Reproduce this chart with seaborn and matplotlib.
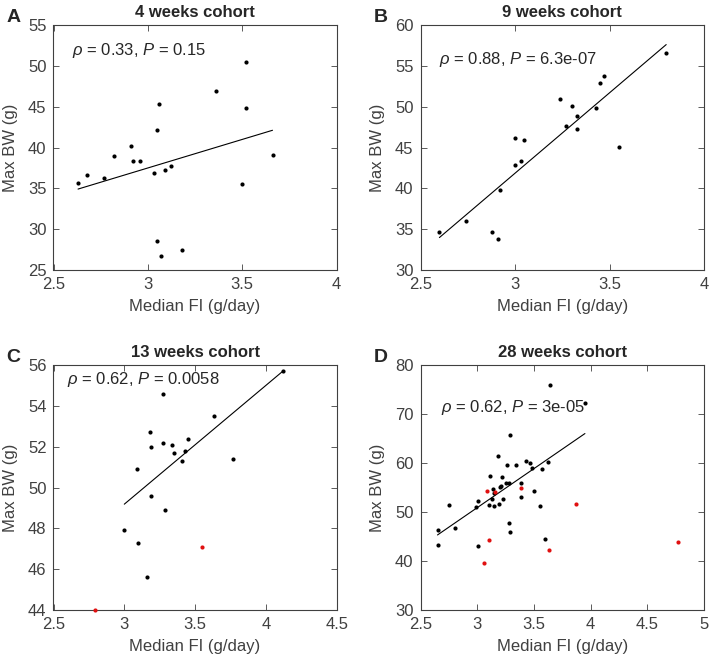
import numpy as np
import pandas as pd
import matplotlib
matplotlib.use("Agg")
import matplotlib.pyplot as plt
import seaborn as sns

# 4 weeks cohort
a_fi = [2.63, 2.68, 2.77, 2.82, 2.91, 2.92, 2.96, 3.03, 3.06, 3.05, 3.09, 3.12,
        3.05, 3.07, 3.18, 3.36, 3.52, 3.52, 3.50, 3.66]
a_bw = [35.6, 36.6, 36.3, 38.9, 40.2, 38.4, 38.4, 36.9, 45.3, 42.1, 37.2, 37.7,
        28.6, 26.7, 27.5, 46.9, 50.5, 44.8, 35.5, 39.1]

# 9 weeks cohort
b_fi = [2.60, 2.74, 2.88, 2.91, 2.92, 3.00, 3.00, 3.03, 3.05, 3.24, 3.27, 3.30,
        3.33, 3.33, 3.43, 3.45, 3.47, 3.55, 3.80]
b_bw = [34.6, 36.0, 34.7, 33.8, 39.8, 42.8, 46.2, 43.4, 45.9, 51.0, 47.6, 50.1,
        48.8, 47.3, 49.8, 52.9, 53.7, 45.1, 56.6]

# 13 weeks cohort
c_fi = [4.12, 3.27, 3.63, 3.18, 3.19, 3.27, 3.34, 3.35, 3.45, 3.43, 3.41, 3.77,
        3.09, 3.19, 3.29, 3.00, 3.10, 3.16]
c_bw = [55.7, 54.6, 53.5, 52.7, 52.0, 52.2, 52.1, 51.7, 52.4, 51.8, 51.3, 51.4,
        50.9, 49.6, 48.9, 47.9, 47.3, 45.6]
c_out_fi = [3.55, 2.79]
c_out_bw = [47.1, 44.0]

# 28 weeks cohort
d_fi = [3.64, 3.95, 3.29, 3.18, 3.26, 3.34, 3.43, 3.47, 3.62, 3.48, 3.57, 3.11,
        3.22, 3.20, 3.21, 3.25, 3.28, 3.39, 3.14, 3.15, 3.13, 3.23, 3.39, 3.50,
        3.01, 2.99, 3.10, 3.15, 3.19, 2.75, 3.55, 2.65, 2.80, 2.65, 3.01, 3.28,
        3.29, 3.60]
d_bw = [76.0, 72.2, 65.8, 61.4, 59.5, 59.5, 60.5, 59.9, 60.2, 58.9, 58.7, 57.3,
        57.1, 55.2, 55.4, 56.0, 56.0, 55.9, 54.6, 53.8, 52.7, 52.7, 53.1, 54.2,
        52.2, 51.0, 51.5, 51.2, 51.6, 51.4, 51.2, 46.3, 46.7, 43.2, 43.1, 47.8,
        45.9, 44.4]
d_out_fi = [3.09, 3.16, 3.39, 3.87, 3.10, 3.06, 3.63, 4.77]
d_out_bw = [54.2, 54.0, 54.8, 51.7, 44.2, 39.5, 42.2, 43.9]

titles = ["4 weeks cohort", "9 weeks cohort", "13 weeks cohort", "28 weeks cohort"]
letters = ["A", "B", "C", "D"]
stats = [r"$\rho$ = 0.33, $P$ = 0.15", r"$\rho$ = 0.88, $P$ = 6.3e-07",
         r"$\rho$ = 0.62, $P$ = 0.0058", r"$\rho$ = 0.62, $P$ = 3e-05"]

sns.set_style("ticks")
plt.rcParams["font.family"] = ["Liberation Sans", "DejaVu Sans"]
plt.rcParams["mathtext.fontset"] = "custom"
plt.rcParams["mathtext.rm"] = "Liberation Sans"
plt.rcParams["mathtext.it"] = "Liberation Sans:italic"

W, H = 709, 661
fig = plt.figure(figsize=(W / 100, H / 100), dpi=100)

# axes boxes in pixels: left, top, right, bottom
boxes = [(53.5, 25, 336.7, 270), (420.5, 25, 704, 270),
         (53.5, 365, 336.7, 610), (420.5, 365, 704, 610)]
xlims = [(2.5, 4), (2.5, 4), (2.5, 4.5), (2.5, 5)]
ylims = [(25, 55), (30, 60), (44, 56), (30, 80)]
ysteps = [5, 5, 2, 10]
text_pos = [(2.6, 51.9), (2.6, 55.8), (2.594, 55.3), (2.68, 71.4)]

panels = [(a_fi, a_bw, [], []), (b_fi, b_bw, [], []),
          (c_fi, c_bw, c_out_fi, c_out_bw), (d_fi, d_bw, d_out_fi, d_out_bw)]

gray = "#404040"
for i, (fi, bw, ofi, obw) in enumerate(panels):
    l, t, r, b = boxes[i]
    ax = fig.add_axes([l / W, 1 - b / H, (r - l) / W, (b - t) / H])
    df = pd.DataFrame({"fi": fi, "bw": bw})
    sns.regplot(data=df, x="fi", y="bw", scatter=False, ci=None, ax=ax,
                line_kws=dict(color="black", lw=0.8))
    sns.scatterplot(data=df, x="fi", y="bw", color="black", s=9, linewidth=0,
                    ax=ax, clip_on=False, zorder=3)
    if ofi:
        sns.scatterplot(x=ofi, y=obw, color="#e01010", s=9, linewidth=0,
                        ax=ax, clip_on=False, zorder=3)
    ax.set_xlim(*xlims[i])
    ax.set_ylim(*ylims[i])
    ax.set_xticks(np.arange(xlims[i][0], xlims[i][1] + 0.01, 0.5))
    ax.set_yticks(np.arange(ylims[i][0], ylims[i][1] + 0.01, ysteps[i]))
    ax.xaxis.set_major_formatter(matplotlib.ticker.FormatStrFormatter("%g"))
    ax.yaxis.set_major_formatter(matplotlib.ticker.FormatStrFormatter("%g"))
    ax.tick_params(direction="in", top=True, right=True, length=4, width=0.6,
                   labelsize=12, labelcolor=gray, color=gray, pad=5)
    for sp in ax.spines.values():
        sp.set_color(gray)
        sp.set_linewidth(0.8)
    ax.set_xlabel("Median FI (g/day)", fontsize=12, color=gray, labelpad=5)
    ax.set_ylabel("Max BW (g)", fontsize=12, color=gray, labelpad=7)
    ax.set_title(titles[i], fontsize=12, fontweight="bold", pad=6)
    ax.text(*text_pos[i], stats[i], fontsize=12, va="center", ha="left")
    fig.text((l - 47) / W, 1 - (t - 7) / H, letters[i], fontsize=14,
             fontweight="bold", ha="left", va="center")

fig.savefig("out.png", dpi=100)
